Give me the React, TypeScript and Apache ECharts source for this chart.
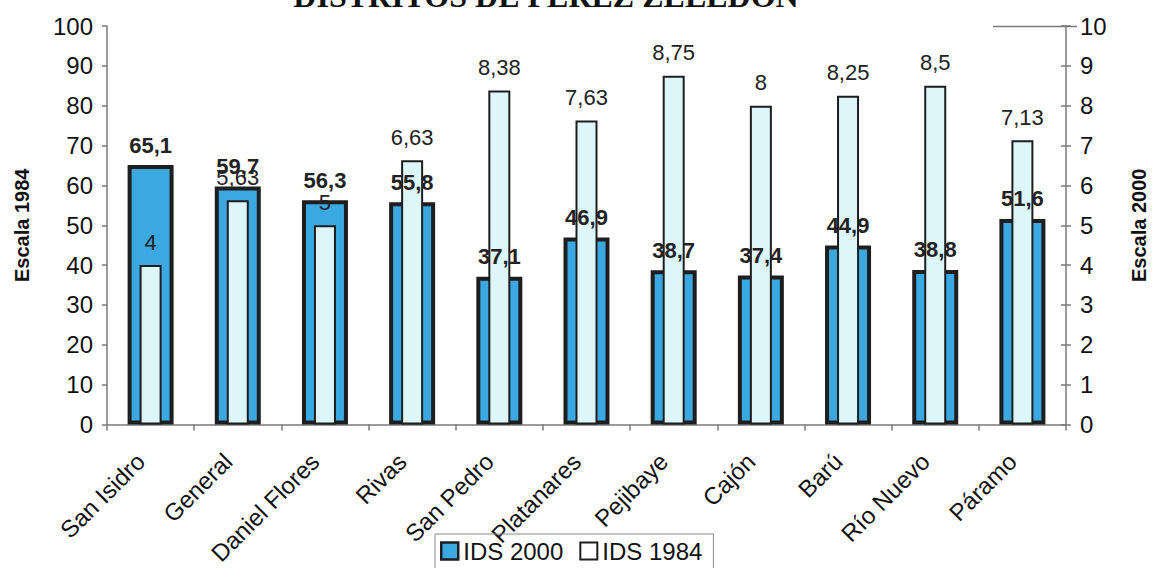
import React, { useEffect, useRef } from "react";
import * as echarts from "echarts";

const districts = [
  "San Isidro",
  "General",
  "Daniel Flores",
  "Rivas",
  "San Pedro",
  "Platanares",
  "Pejibaye",
  "Cajón",
  "Barú",
  "Río Nuevo",
  "Páramo",
];
const ids2000 = [65.1, 59.7, 56.3, 55.8, 37.1, 46.9, 38.7, 37.4, 44.9, 38.8, 51.6];
const ids1984 = [4, 5.63, 5, 6.63, 8.38, 7.63, 8.75, 8, 8.25, 8.5, 7.13];
const leftTicks = { min: 0, max: 100, interval: 10 };
const rightTicks = { min: 0, max: 10, interval: 1 };

const BLUE = "#3ba8e2";
const LIGHT = "#dcf6fa";
const EDGE = "#1e1e1e";
const AXIS = "#7a7a7a";
const FONT = "'Liberation Sans', Arial, sans-serif";

const decimalComma = (v: number) => String(v).replace(".", ",");

export default function App() {
  const ref = useRef<HTMLDivElement>(null);

  useEffect(() => {
    if (!ref.current) return;
    const chart = echarts.init(ref.current, undefined, { renderer: "svg" });
    chart.setOption({
      animation: false,
      backgroundColor: "#ffffff",
      textStyle: { fontFamily: FONT },
      grid: { left: 107, right: 80, top: 26, bottom: 139 },
      graphic: [
        {
          type: "text",
          x: 546,
          y: 12,
          style: {
            text: "DISTRITOS DE PÉREZ ZELEDÓN",
            font: "bold 32px 'Liberation Serif', 'Times New Roman', serif",
            fill: "#111",
            textAlign: "center",
            textVerticalAlign: "bottom",
          },
        },
        {
          type: "line",
          shape: { x1: 993, y1: 26.5, x2: 1077, y2: 26.5 },
          style: { stroke: AXIS, lineWidth: 1.5 },
        },
      ],
      legend: {
        left: 435,
        top: 534,
        orient: "horizontal",
        icon: "rect",
        itemWidth: 17,
        itemHeight: 17,
        itemGap: 16,
        padding: [5, 11, 14, 5],
        borderColor: "#8a8a8a",
        borderWidth: 1,
        textStyle: { fontSize: 24, color: "#111", fontFamily: FONT },
        data: [
          { name: "IDS 2000", itemStyle: { color: BLUE, borderColor: EDGE, borderWidth: 2.5 } },
          { name: "IDS 1984", itemStyle: { color: "#ffffff", borderColor: EDGE, borderWidth: 2 } },
        ],
      },
      xAxis: [
        {
          type: "category",
          data: districts,
          boundaryGap: true,
          axisLine: { lineStyle: { color: AXIS, width: 1.5 } },
          axisTick: { show: true, length: 6, lineStyle: { color: AXIS, width: 1.5 } },
          axisLabel: {
            rotate: 45,
            margin: 23,
            padding: [0, 14, 0, 0],
            fontSize: 24,
            color: "#111",
            fontFamily: FONT,
            interval: 0,
          },
        },
        {
          type: "category",
          data: districts,
          show: false,
          boundaryGap: true,
        },
      ],
      yAxis: [
        {
          type: "value",
          position: "left",
          ...leftTicks,
          name: "Escala 1984",
          nameLocation: "middle",
          nameRotate: 90,
          nameGap: 75,
          nameTextStyle: { fontSize: 20, fontWeight: "bold", color: "#111", fontFamily: FONT },
          splitLine: { show: false },
          axisLine: { show: true, lineStyle: { color: AXIS, width: 1.5 } },
          axisTick: { show: true, length: 5, lineStyle: { color: AXIS, width: 1.5 } },
          axisLabel: { fontSize: 24, color: "#111", margin: 14, fontFamily: FONT },
        },
        {
          type: "value",
          position: "right",
          ...rightTicks,
          name: "Escala 2000",
          nameLocation: "middle",
          nameRotate: 90,
          nameGap: 63,
          nameTextStyle: { fontSize: 20, fontWeight: "bold", color: "#111", fontFamily: FONT },
          splitLine: { show: false },
          axisLine: { show: true, lineStyle: { color: AXIS, width: 1.5 } },
          axisTick: { show: true, length: 5, lineStyle: { color: AXIS, width: 1.5 } },
          axisLabel: { fontSize: 24, color: "#111", margin: 14, fontFamily: FONT },
        },
        {
          // inner half of the crossing ticks on the right scale
          type: "value",
          position: "right",
          ...rightTicks,
          splitLine: { show: false },
          axisLine: { show: false },
          axisTick: { show: true, inside: true, length: 5, lineStyle: { color: AXIS, width: 1.5 } },
          axisLabel: { show: false },
        },
      ],
      series: [
        {
          name: "IDS 2000",
          type: "bar",
          xAxisIndex: 0,
          yAxisIndex: 0,
          data: ids2000,
          barWidth: 46,
          itemStyle: { color: BLUE, borderColor: EDGE, borderWidth: 4 },
          label: {
            show: true,
            position: "top",
            distance: 9,
            fontSize: 22,
            fontWeight: "bold",
            color: "#222",
            fontFamily: FONT,
            formatter: (p: any) => decimalComma(p.value),
          },
        },
        {
          name: "IDS 1984",
          type: "bar",
          xAxisIndex: 1,
          yAxisIndex: 1,
          data: ids1984,
          barWidth: 22,
          itemStyle: { color: LIGHT, borderColor: EDGE, borderWidth: 2 },
          label: {
            show: true,
            position: "top",
            distance: 12,
            fontSize: 22,
            color: "#222",
            fontFamily: FONT,
            formatter: (p: any) => decimalComma(p.value),
          },
        },
      ],
    });
    return () => chart.dispose();
  }, []);

  return (
    <div
      ref={ref}
      style={{ position: "absolute", left: 0, top: 0, width: 1157, height: 568 }}
    />
  );
}
